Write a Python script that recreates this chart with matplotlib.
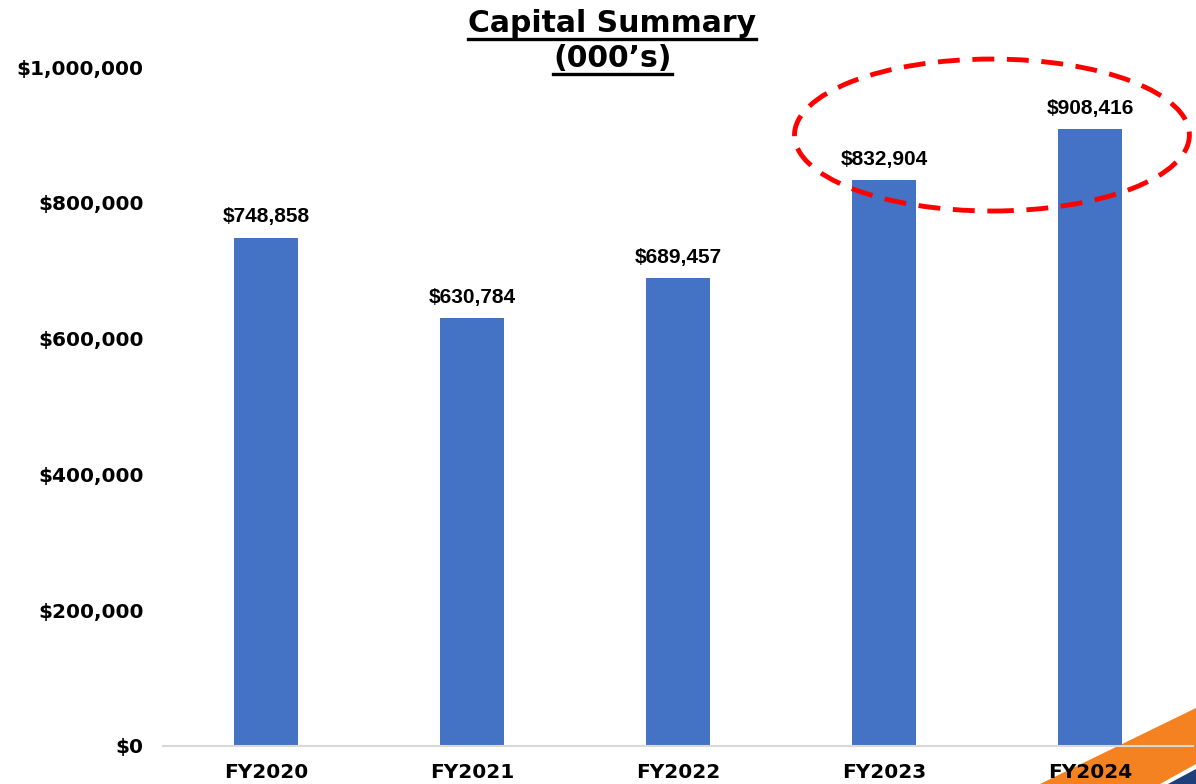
import numpy as np
import matplotlib.pyplot as plt
from matplotlib.patches import Ellipse, Polygon
from matplotlib.lines import Line2D
from matplotlib.ticker import FuncFormatter

years = ["FY2020", "FY2021", "FY2022", "FY2023", "FY2024"]
capital = [748858, 630784, 689457, 832904, 908416]

bar_color = "#4472C4"

fig = plt.figure(figsize=(11.96, 7.84), dpi=100)
ax = fig.add_axes([0.1363, 0.0485, 0.8612, 0.866])
ax.patch.set_visible(False)

x = np.arange(len(years))
bars = ax.bar(x, capital, width=0.315, color=bar_color)

# value labels on top of bars
for b, v in zip(bars, capital):
    ax.annotate(f"${v:,.0f}", (b.get_x() + b.get_width() / 2, v),
                xytext=(0, 8), textcoords="offset points",
                ha="center", va="bottom", fontsize=15,
                fontweight="bold", family="Liberation Sans")

ax.set_xlim(-0.5, len(years) - 0.5)
ax.set_ylim(0, 1000000)
ax.set_yticks(np.arange(0, 1000001, 200000))
ax.yaxis.set_major_formatter(FuncFormatter(lambda v, p: f"${v:,.0f}"))
ax.set_xticks(x)
ax.set_xticklabels(years)
ax.tick_params(length=0, labelsize=14.5)
ax.tick_params(axis="y", pad=14)
ax.tick_params(axis="x", pad=12)
for lab in ax.get_xticklabels() + ax.get_yticklabels():
    lab.set_fontweight("bold")

for s in ["top", "right", "left"]:
    ax.spines[s].set_visible(False)
ax.spines["bottom"].set_color("#d9d9d9")
ax.spines["bottom"].set_linewidth(1.5)

# dashed ellipse around the last two years
ell = Ellipse((3.524, 899850), 1.917, 223860, fill=False,
              edgecolor="#FF0000", lw=3.5, ls=(0, (4.5, 2.6)), clip_on=False)
ax.add_patch(ell)

# title with underline
t1 = fig.text(0.512, 0.970, "Capital Summary", ha="center", va="center",
              fontsize=21.5, fontweight="bold")
t2 = fig.text(0.512, 0.925, "(000\u2019s)", ha="center", va="center",
              fontsize=21.5, fontweight="bold")
fig.canvas.draw()
r = fig.canvas.get_renderer()
inv = fig.transFigure.inverted()
for t in (t1, t2):
    bb = t.get_window_extent(r)
    (x0, y0), (x1, y1) = inv.transform([[bb.x0, bb.y0], [bb.x1, bb.y1]])
    fig.add_artist(Line2D([x0, x1], [y0 - 0.001, y0 - 0.001],
                          transform=fig.transFigure, color="black", lw=2.4))

# corner decoration
W, H = 1196, 784
def fc(pts):
    return [(px / W, 1 - py / H) for px, py in pts]

fig.add_artist(Polygon(fc([(1040, 784), (1196, 708), (1196, 764), (1160, 784)]),
                       closed=True, transform=fig.transFigure,
                       facecolor="#F58220", lw=0, zorder=0))
fig.add_artist(Polygon(fc([(1168, 784), (1196, 769), (1196, 784)]),
                       closed=True, transform=fig.transFigure,
                       facecolor="#1F3F7A", lw=0, zorder=0))

fig.savefig("out.png", dpi=100)
